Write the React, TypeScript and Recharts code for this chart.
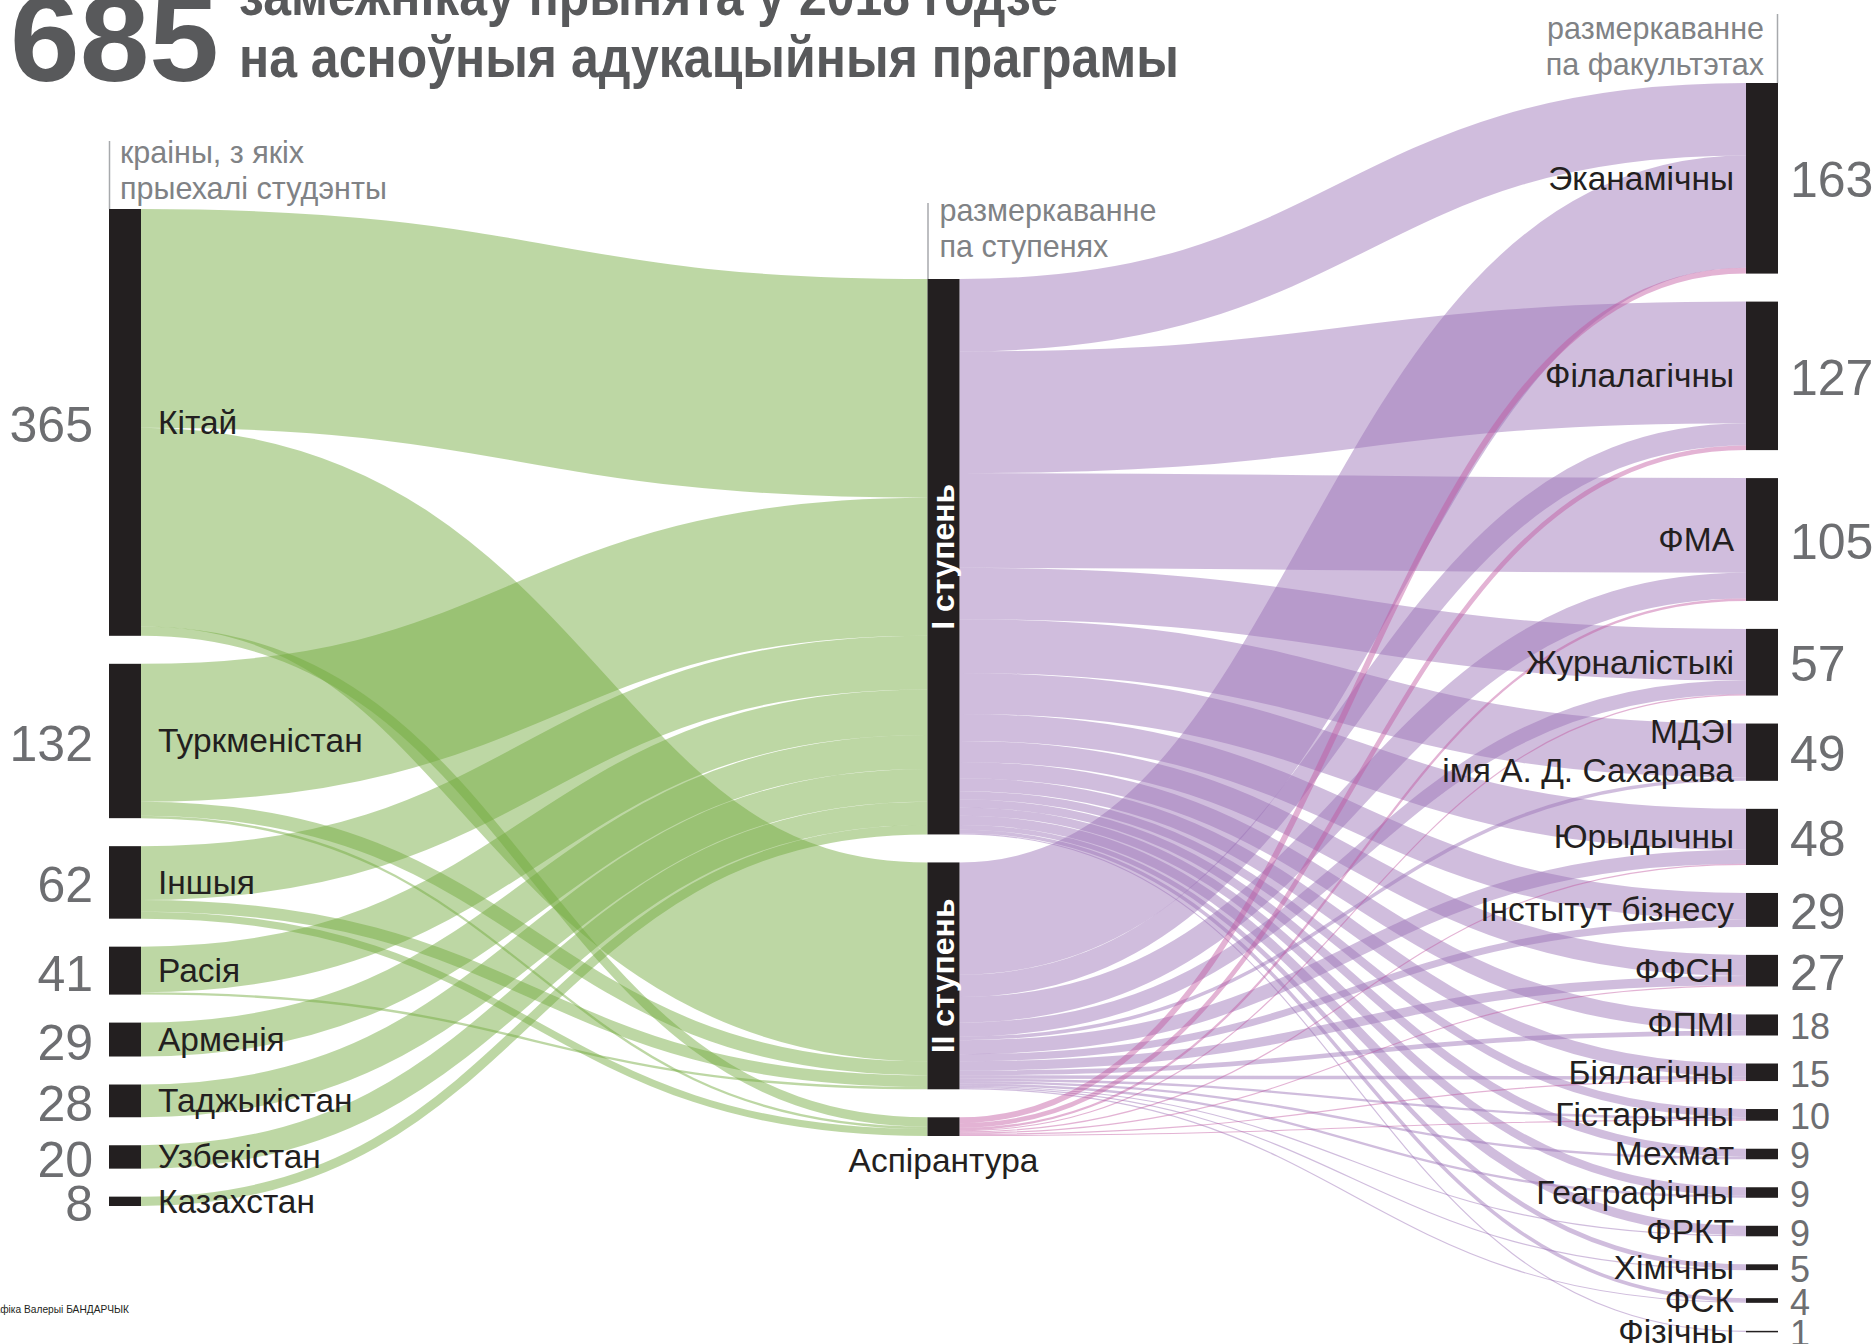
import React from "react"
import { Sankey } from "recharts"

// columns of the diagram
const countries = ["Кітай", "Туркменістан", "Іншыя", "Расія", "Арменія", "Таджыкістан", "Узбекістан", "Казахстан"]
const levels = ["I ступень", "II ступень", "Аспірантура"]
const faculties = [
    "Эканамічны", "Філалагічны", "ФМА", "Журналістыкі", "МДЭІ імя А. Д. Сахарава", "Юрыдычны",
    "Інстытут бізнесу", "ФФСН", "ФПМІ", "Біялагічны", "Гістарычны", "Мехмат", "Геаграфічны",
    "ФРКТ", "Хімічны", "ФСК", "Фізічны",
]

// students from each country to each level
const countryToI = [187, 118, 46, 39, 29, 28, 20, 8]
const countryToII = [170, 12, 10, 2, 0, 0, 0, 0]
const countryToAsp = [8, 2, 6, 0, 0, 0, 0, 0]

// students of each level per faculty
const levelIToFaculty = [62, 104, 81, 44, 46, 35, 23, 18, 14, 11, 7, 7, 7, 8, 4, 3, 1]
const levelIIToFaculty = [96, 19, 22, 12, 3, 12, 6, 8, 4, 3, 2, 2, 2, 1, 1, 1, 0]
const aspToFaculty = [5, 4, 2, 1, 0, 1, 0, 1, 0, 1, 1, 0, 0, 0, 0, 0, 0]

const W = 1876
const H = 1344
const MARGIN = { top: 83, right: 98, bottom: 12, left: 109 }
const NODE_W = 32
const PAD = 28

const FONT = "'Liberation Sans', Arial, Helvetica, sans-serif"
const INK = "#231f20"
const GREY = "#6d6e71"
const LIGHT = "#808285"
const GREEN = "#72ab3e"
const PURPLE = "#9b72b6"
const PINK = "#c2579f"
const LABEL = 33.5

const columns = [countries, levels, faculties]
const columnOf: Record<string, number> = {}
columns.forEach((names, c) => names.forEach(n => (columnOf[n] = c)))
const maxCount = Math.max(...columns.map(c => c.length))
// recharts stacks every column from the top; centre the shorter ones
const colOffset = columns.map(c => ((maxCount - c.length) * PAD) / 2)

const nodes = [...countries, ...levels, ...faculties].map(name => ({ name }))
const idx = (n: string) => nodes.findIndex(d => d.name === n)

const links: { source: number; target: number; value: number }[] = []
const pushLinks = (from: string[], to: string, vals: number[], reverse = false) => {
    vals.forEach((v, i) => {
        if (!v) return
        if (reverse) links.push({ source: idx(to), target: idx(from[i]), value: v })
        else links.push({ source: idx(from[i]), target: idx(to), value: v })
    })
}
pushLinks(countries, "I ступень", countryToI)
pushLinks(countries, "II ступень", countryToII)
pushLinks(countries, "Аспірантура", countryToAsp)
pushLinks(faculties, "I ступень", levelIToFaculty, true)
pushLinks(faculties, "II ступень", levelIIToFaculty, true)
pushLinks(faculties, "Аспірантура", aspToFaculty, true)

const nameOf = (n: any) => (typeof n === "number" ? nodes[n].name : n?.name)

const LinkShape = (props: any) => {
    const { sourceX, targetX, sourceY, targetY, sourceControlX, targetControlX, linkWidth, payload } = props
    const s = nameOf(payload.source)
    const t = nameOf(payload.target)
    const sy = sourceY + colOffset[columnOf[s]]
    const ty = targetY + colOffset[columnOf[t]]
    const color = columnOf[s] === 0 ? GREEN : s === "Аспірантура" ? PINK : PURPLE
    return (
        <path
            d={`M${sourceX},${sy}C${sourceControlX},${sy} ${targetControlX},${ty} ${targetX},${ty}`}
            fill="none"
            stroke={color}
            strokeWidth={Math.max(linkWidth, 1)}
            strokeOpacity={s === "Аспірантура" ? 0.45 : 0.47}
        />
    )
}

const NodeShape = (props: any) => {
    const { x, y, width, height, payload } = props
    const name = payload.name
    const col = columnOf[name]
    const top = y + colOffset[col]
    const h = Math.max(height, 1.5)
    const cy = top + h / 2
    const rect = <rect x={x} y={top} width={width} height={h} fill={INK} />

    if (col === 0) {
        return (
            <g>
                {rect}
                <text x={x + width + 17} y={cy} fontSize={LABEL} fill={INK} fontFamily={FONT} dominantBaseline="central">{name}</text>
                <text x={x - 16} y={cy + 3} fontSize={50} fill={GREY} fontFamily={FONT} textAnchor="end" dominantBaseline="central">{payload.value}</text>
            </g>
        )
    }
    if (col === 1) {
        if (name === "Аспірантура") {
            return (
                <g>
                    {rect}
                    <text x={x + width / 2} y={top + h + 24} fontSize={LABEL} fill={INK} fontFamily={FONT} textAnchor="middle" dominantBaseline="central">{name}</text>
                </g>
            )
        }
        const cx = x + width / 2
        return (
            <g>
                {rect}
                <text
                    x={cx}
                    y={cy}
                    fontSize={32}
                    fontWeight="bold"
                    fill="#fff"
                    fontFamily={FONT}
                    textAnchor="middle"
                    dominantBaseline="central"
                    transform={`rotate(-90 ${cx} ${cy})`}
                >
                    {name}
                </text>
            </g>
        )
    }
    const big = payload.value >= 20
    const split = name.startsWith("МДЭІ")
    return (
        <g>
            {rect}
            {split ? (
                <>
                    <text x={x - 12} y={cy - 21} fontSize={LABEL} fill={INK} fontFamily={FONT} textAnchor="end" dominantBaseline="central">МДЭІ</text>
                    <text x={x - 12} y={cy + 18} fontSize={LABEL} fill={INK} fontFamily={FONT} textAnchor="end" dominantBaseline="central">імя А. Д. Сахарава</text>
                </>
            ) : (
                <text x={x - 12} y={cy} fontSize={LABEL} fill={INK} fontFamily={FONT} textAnchor="end" dominantBaseline="central">{name}</text>
            )}
            <text x={x + width + 12} y={cy + 2} fontSize={big ? 50 : 36} fill={GREY} fontFamily={FONT} dominantBaseline="central">{payload.value}</text>
        </g>
    )
}

const innerW = W - MARGIN.left - MARGIN.right
const colX = [0, 1, 2].map(d => MARGIN.left + (d * (innerW - NODE_W)) / 2)
const colTop = colOffset.map(o => MARGIN.top + o)

export default function App() {
    return (
        <div style={{ position: "absolute", left: 0, top: 0, width: W, height: H, overflow: "hidden", background: "#fff" }}>
            <Sankey
                width={W}
                height={H}
                data={{ nodes, links }}
                margin={MARGIN}
                nodeWidth={NODE_W}
                nodePadding={PAD}
                iterations={0}
                sort={false}
                linkCurvature={0.5}
                node={<NodeShape />}
                link={<LinkShape />}
            />
            <svg width={W} height={H} style={{ position: "absolute", left: 0, top: 0, pointerEvents: "none" }}>
                {/* title */}
                <text x={10} y={81} fontSize={122} fontWeight="bold" fill="#58595b" fontFamily={FONT} textLength={209} lengthAdjust="spacingAndGlyphs">685</text>
                <text x={239} y={15} fontSize={58} fontWeight="bold" fill="#58595b" fontFamily={FONT} textLength={819} lengthAdjust="spacingAndGlyphs">замежнікаў прынята ў 2018 годзе</text>
                <text x={239} y={77} fontSize={58} fontWeight="bold" fill="#58595b" fontFamily={FONT} textLength={940} lengthAdjust="spacingAndGlyphs">на асноўныя адукацыйныя праграмы</text>

                {/* column headers */}
                <line x1={colX[0] + 0.5} x2={colX[0] + 0.5} y1={141} y2={colTop[0]} stroke="#a7a9ac" strokeWidth={1.5} />
                <text x={colX[0] + 11} y={152} fontSize={30.5} fill={LIGHT} fontFamily={FONT} dominantBaseline="central">краіны, з якіх</text>
                <text x={colX[0] + 11} y={188} fontSize={30.5} fill={LIGHT} fontFamily={FONT} dominantBaseline="central">прыехалі студэнты</text>

                <line x1={colX[1] + 0.5} x2={colX[1] + 0.5} y1={203} y2={colTop[1]} stroke="#a7a9ac" strokeWidth={1.5} />
                <text x={colX[1] + 12} y={210} fontSize={30.5} fill={LIGHT} fontFamily={FONT} dominantBaseline="central">размеркаванне</text>
                <text x={colX[1] + 12} y={246} fontSize={30.5} fill={LIGHT} fontFamily={FONT} dominantBaseline="central">па ступенях</text>

                <line x1={colX[2] + NODE_W - 0.5} x2={colX[2] + NODE_W - 0.5} y1={14} y2={colTop[2]} stroke="#a7a9ac" strokeWidth={1.5} />
                <text x={colX[2] + NODE_W - 14} y={28} fontSize={30.5} fill={LIGHT} fontFamily={FONT} textAnchor="end" dominantBaseline="central">размеркаванне</text>
                <text x={colX[2] + NODE_W - 14} y={64} fontSize={30.5} fill={LIGHT} fontFamily={FONT} textAnchor="end" dominantBaseline="central">па факультэтах</text>

                {/* credit */}
                <text x={129} y={1309} fontSize={10.2} fill={INK} fontFamily={FONT} textAnchor="end" dominantBaseline="central">Інфаграфіка Валерыі БАНДАРЧЫК</text>
            </svg>
        </div>
    )
}
